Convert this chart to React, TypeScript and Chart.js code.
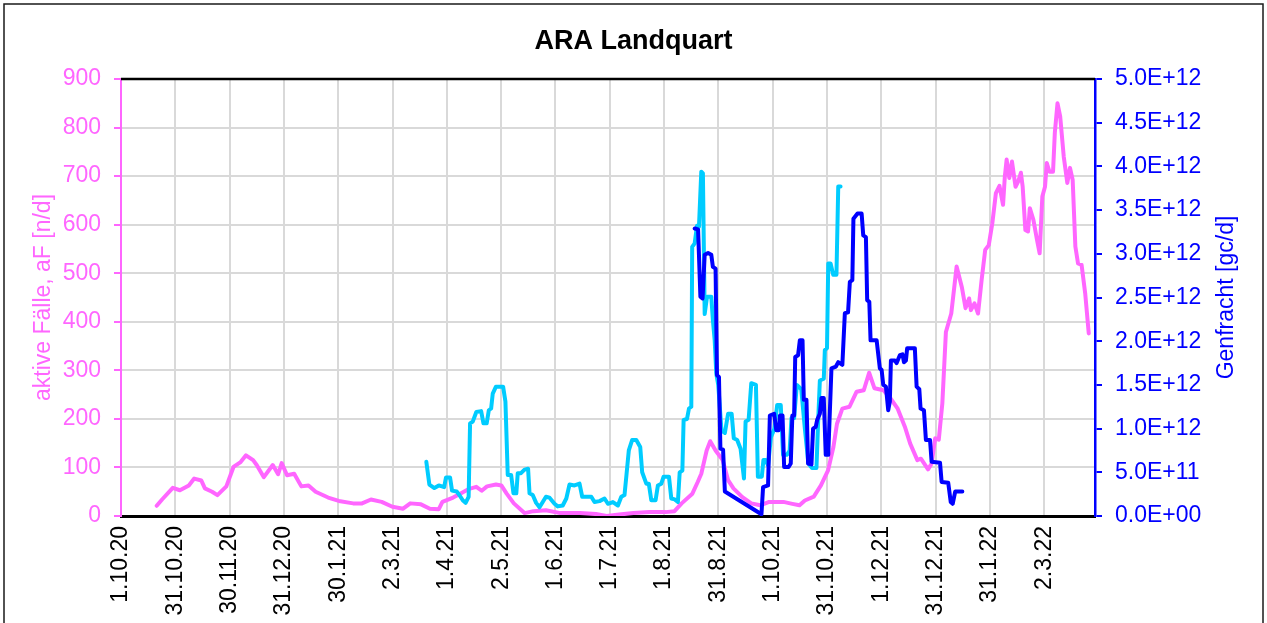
import React, { useEffect, useRef } from 'react';
import { Chart, registerables } from 'chart.js';

Chart.register(...registerables);

const FONT = '"Liberation Sans", Arial, Helvetica, sans-serif';
const PINK = '#FF66FF';
const CYAN = '#00CCFF';
const BLUE = '#0000FF';
const GRID = '#D9D9D9';

// x axis: days since 1.10.20, major unit = 365/12 days
const xTickStep = 365 / 12;
const xTickLabels = [
  '1.10.20', '31.10.20', '30.11.20', '31.12.20', '30.1.21', '2.3.21', '1.4.21', '2.5.21', '1.6.21',
  '1.7.21', '1.8.21', '31.8.21', '1.10.21', '31.10.21', '1.12.21', '31.12.21', '31.1.22', '2.3.22',
];

// aktive Fälle (left axis)
const pinkDays = [
  20, 23, 29, 33, 38, 41, 45, 47, 51, 54, 59, 63, 67, 70, 74, 76, 80, 85, 88, 90, 93, 97, 101, 105, 109,
  116, 122, 130, 135, 140, 146, 152, 158, 162, 168, 173, 178, 180, 186, 190, 195, 199, 202, 205, 210, 213,
  216, 220, 226, 231, 238, 246, 257, 266, 272, 279, 287, 296, 305, 310, 314, 320, 323, 325, 328, 330, 333,
  337, 340, 343, 348, 353, 358, 363, 371, 376, 380, 383, 388, 392, 396, 399, 401, 404, 408, 412, 416, 419,
  422, 427, 431, 435, 439, 442, 446, 448, 452, 454, 456, 458, 460, 462, 465, 468, 471, 473, 475, 476, 478,
  480, 482, 484, 486, 488, 490, 492, 494, 495, 496, 497.5, 499, 501, 502.5, 504, 505, 506.5, 508, 509, 511,
  513, 514.5, 516, 517.5, 518.5, 520, 522, 523, 524.5, 526, 528, 530, 531.5, 533, 534.5, 536, 538, 540, 542,
];
const pinkCases = [
  21, 34, 58, 53, 63, 77, 73, 57, 50, 43, 61, 101, 111, 125, 115, 105, 80, 105, 86, 109, 84, 87, 61, 63, 50,
  38, 31, 26, 26, 34, 29, 19, 15, 26, 24, 15, 14, 29, 38, 46, 56, 60, 52, 61, 65, 63,
  46, 26, 6, 10, 12, 6, 6, 4, 0, 3, 6, 8, 8, 10, 26, 46, 70, 87, 135, 154, 135,
  115, 74, 57, 39, 26, 22, 29, 29, 25, 22, 32, 40, 63, 94, 142, 190, 221, 225, 256, 259, 295,
  263, 259, 242, 221, 184, 149, 115, 118, 96, 108, 160, 157, 232, 379, 417, 514, 470, 428, 448, 424, 438,
  417, 486, 548, 558, 603, 665, 680, 641, 699, 734, 696, 730, 678, 689, 707, 678, 589, 586, 634, 610,
  569, 541, 658, 678, 727, 709, 709, 789, 850, 823, 740, 686, 717, 692, 555, 520, 517, 459, 376,
];

// Genfracht series 1 (right axis, gc/d)
const cyanDays = [
  171, 172.7, 175.5, 178, 181, 182, 184.3, 185.4, 188, 189.5, 191.4, 193, 194.7, 195.5, 197, 199, 201.7,
  203, 204.8, 206, 207.3, 208.2, 210, 214, 215.3, 216.6, 218.5, 219.8, 221.4, 222.2, 224, 226, 228, 228.8,
  230.6, 232.5, 234.4, 236.2, 238, 240, 242.8, 244.6, 247.4, 249.4, 251.2, 254, 256.8, 258.3, 263.4, 265.2,
  268, 270.8, 272.7, 275.5, 278.3, 280.2, 282, 283, 284.4, 286.3, 288.6, 290.8, 291.9, 294.2, 295.6, 297,
  299.4, 300.7, 302.6, 303.9, 306.9, 308.2, 310.1, 311.9, 312.9, 314.4, 315.1, 317, 318.1, 319.4, 319.9,
  321.3, 322.6, 323.7, 325, 325.9, 326.9, 328.2, 330.6, 331.5, 332.5, 333.4, 334.5, 336.3, 338.2, 340, 342,
  343.2, 345.1, 347, 348.9, 349.8, 351.5, 353, 355.6, 356.7, 358.9, 359.8, 361, 362.4, 364, 366, 367.5,
  369.5, 370.8, 373, 374.5, 375.5, 377, 378.5, 381, 383, 385, 387, 389.5, 390.4, 391.4, 393.6, 394.2,
  395.4, 396.1, 397.4, 398.9, 400.7, 401.7, 403,
];
const cyanLoad = [
  0.62e12, 0.36e12, 0.32e12, 0.35e12, 0.33e12, 0.44e12, 0.44e12, 0.29e12, 0.28e12, 0.24e12, 0.18e12, 0.15e12,
  0.22e12, 1.06e12, 1.08e12, 1.19e12, 1.2e12, 1.06e12, 1.06e12, 1.21e12, 1.23e12, 1.4e12, 1.48e12, 1.48e12,
  1.31e12, 0.47e12, 0.47e12, 0.26e12, 0.26e12, 0.49e12, 0.49e12, 0.53e12, 0.54e12, 0.26e12, 0.24e12, 0.15e12,
  0.1e12, 0.16e12, 0.22e12, 0.21e12, 0.14e12, 0.11e12, 0.12e12, 0.2e12, 0.36e12, 0.35e12, 0.37e12, 0.22e12,
  0.22e12, 0.16e12, 0.17e12, 0.2e12, 0.14e12, 0.16e12, 0.12e12, 0.22e12, 0.24e12, 0.45e12, 0.75e12, 0.87e12,
  0.87e12, 0.79e12, 0.5e12, 0.37e12, 0.37e12, 0.18e12, 0.18e12, 0.35e12, 0.37e12, 0.45e12, 0.45e12, 0.2e12,
  0.19e12, 0.16e12, 0.5e12, 0.52e12, 1.1e12, 1.11e12, 1.23e12, 1.25e12, 3.08e12, 3.12e12, 3.32e12, 3.31e12,
  3.94e12, 3.92e12, 2.31e12, 2.51e12, 2.51e12, 2.24e12, 2.01e12, 1.63e12, 1.5e12, 0.98e12, 0.95e12, 1.17e12,
  1.17e12, 0.89e12, 0.87e12, 0.77e12, 0.43e12, 1.08e12, 1.1e12, 1.52e12, 1.5e12, 0.45e12, 0.45e12, 0.64e12,
  0.64e12, 0.58e12, 0.9e12, 1.0e12, 1.27e12, 1.27e12, 0.7e12, 0.7e12, 0.75e12, 1.12e12, 1.12e12, 1.5e12,
  1.45e12, 1.0e12, 0.6e12, 0.55e12, 0.55e12, 1.06e12, 1.55e12, 1.57e12, 1.9e12, 1.92e12, 2.89e12, 2.89e12,
  2.76e12, 2.76e12, 3.77e12, 3.77e12,
];

// Genfracht series 2 (right axis, gc/d)
const blueDays = [
  321.3, 323.2, 324.5, 325.7, 326.9, 328.8, 330.6, 331.5, 333, 333.8, 334.9, 335.7, 337.2, 338.2, 358.7,
  359.6, 362.4, 363.4, 365.8, 367, 368.4, 369.1, 370.5, 371.4, 373.9, 375.1, 376, 377, 377.6, 379.2, 380.2,
  381.7, 382.4, 383.9, 384.8, 386.7, 387.6, 389.1, 389.9, 391.4, 392.3, 393.6, 394.7, 396.1, 397.9, 400.4,
  401.7, 404, 405.4, 407.2, 408.2, 409.6, 410.2, 412.5, 414.8, 415.7, 417.2, 417.9, 419.1, 419.8, 423.2,
  425, 426, 426.9, 428.4, 429.7, 430.6, 431.2, 433.4, 434.4, 436.2, 437.7, 438.5, 439.6, 440.3, 444.6,
  445.6, 447.1, 447.8, 449.7, 450.8, 453.1, 454, 458.7, 459.6, 463.3, 464.7, 465.8, 467.2, 471.2,
];
const blueLoad = [
  3.29e12, 3.28e12, 2.51e12, 2.49e12, 2.99e12, 3.01e12, 2.99e12, 2.85e12, 2.83e12, 1.61e12, 1.59e12, 0.77e12,
  0.76e12, 0.28e12, 0.02e12, 0.33e12, 0.35e12, 1.15e12, 1.17e12, 0.98e12, 0.98e12, 1.15e12, 1.15e12, 0.56e12,
  0.56e12, 0.6e12, 1.15e12, 1.15e12, 1.82e12, 1.84e12, 2.01e12, 2.01e12, 1.33e12, 1.33e12, 0.6e12, 0.59e12,
  1.0e12, 1.02e12, 1.1e12, 1.17e12, 1.35e12, 1.35e12, 0.7e12, 0.7e12, 1.69e12, 1.71e12, 1.76e12, 1.73e12,
  2.32e12, 2.33e12, 2.68e12, 2.7e12, 3.4e12, 3.46e12, 3.46e12, 3.21e12, 3.19e12, 2.47e12, 2.45e12, 2.01e12,
  2.01e12, 1.69e12, 1.67e12, 1.5e12, 1.48e12, 1.21e12, 1.31e12, 1.78e12, 1.78e12, 1.75e12, 1.84e12, 1.85e12,
  1.76e12, 1.78e12, 1.92e12, 1.92e12, 1.48e12, 1.45e12, 1.23e12, 1.21e12, 0.87e12, 0.87e12, 0.62e12, 0.61e12,
  0.39e12, 0.38e12, 0.16e12, 0.14e12, 0.28e12, 0.28e12,
];

function toPoints(xs: number[], ys: number[]) {
  return xs.map((x, i) => ({ x, y: ys[i] }));
}

function fmtExp(v: number): string {
  if (v === 0) return '0.0E+00';
  let e = Math.floor(Math.log10(Math.abs(v)) + 1e-9);
  let m = v / Math.pow(10, e);
  if (Math.abs(m) >= 9.95) {
    m /= 10;
    e += 1;
  }
  return m.toFixed(1) + 'E' + (e >= 0 ? '+' : '-') + String(Math.abs(e)).padStart(2, '0');
}

const framePlugin = {
  id: 'frame',
  beforeDraw(chart: any) {
    const ctx = chart.ctx;
    ctx.save();
    ctx.fillStyle = '#ffffff';
    ctx.fillRect(0, 0, chart.width, chart.height);
    ctx.restore();
  },
  afterDraw(chart: any) {
    const { ctx, chartArea } = chart;
    ctx.save();
    ctx.strokeStyle = '#1a1a1a';
    ctx.lineWidth = 1.5;
    ctx.strokeRect(4, 4, 1259, 700);
    ctx.strokeStyle = '#000000';
    ctx.lineWidth = 2.5;
    ctx.beginPath();
    ctx.moveTo(chartArea.left, chartArea.top);
    ctx.lineTo(chartArea.right, chartArea.top);
    ctx.stroke();
    ctx.translate(1227, (chartArea.top + chartArea.bottom) / 2);
    ctx.rotate(-Math.PI / 2);
    ctx.fillStyle = BLUE;
    ctx.font = `23px ${FONT}`;
    ctx.textAlign = 'center';
    ctx.textBaseline = 'middle';
    ctx.fillText('Genfracht [gc/d]', 0, 0);
    ctx.restore();
  },
};

export default function App() {
  const ref = useRef<HTMLCanvasElement>(null);

  useEffect(() => {
    const canvas = ref.current;
    if (!canvas) return;
    const tickFont = { family: FONT, size: 23 };
    const lineBase = {
      borderWidth: 4,
      pointRadius: 0,
      tension: 0,
      fill: false,
      borderJoinStyle: 'round',
      borderCapStyle: 'round',
    };
    const chart = new Chart(canvas, {
      type: 'line',
      data: {
        datasets: [
          {
            ...lineBase,
            label: 'aktive Fälle',
            data: toPoints(pinkDays, pinkCases),
            borderColor: PINK,
            backgroundColor: PINK,
            yAxisID: 'y',
            order: 2,
          },
          {
            ...lineBase,
            label: 'Genfracht 1',
            data: toPoints(cyanDays, cyanLoad),
            borderColor: CYAN,
            backgroundColor: CYAN,
            yAxisID: 'y2',
            order: 1,
          },
          {
            ...lineBase,
            label: 'Genfracht 2',
            data: toPoints(blueDays, blueLoad),
            borderColor: BLUE,
            backgroundColor: BLUE,
            yAxisID: 'y2',
            order: 0,
          },
        ],
      },
      options: {
        animation: false,
        responsive: false,
        devicePixelRatio: 1,
        layout: { padding: 0 },
        plugins: {
          legend: { display: false },
          tooltip: { enabled: false },
          title: {
            display: true,
            text: 'ARA Landquart',
            color: '#000000',
            font: { family: FONT, size: 27, weight: 'bold' },
            padding: { top: 25, bottom: 21.6 },
          },
        },
        scales: {
          x: {
            type: 'linear',
            min: 0,
            max: 545.5,
            afterBuildTicks: (scale: any) => {
              scale.ticks = xTickLabels.map((_, i) => ({ value: i * xTickStep }));
            },
            afterFit: (scale: any) => {
              scale.height = 107;
            },
            ticks: {
              autoSkip: false,
              minRotation: 90,
              maxRotation: 90,
              padding: 10,
              color: '#000000',
              font: tickFont,
              callback: (_v: any, i: number) => xTickLabels[i],
            },
            grid: { color: GRID, lineWidth: 2, drawTicks: false },
            border: { color: '#000000', width: 3 },
          },
          y: {
            position: 'left',
            min: 0,
            max: 900,
            afterFit: (scale: any) => {
              scale.width = 121;
            },
            ticks: { stepSize: 100, color: PINK, font: tickFont, padding: 13 },
            grid: { color: GRID, lineWidth: 2, tickColor: PINK, tickLength: 7, tickWidth: 2 },
            border: { color: PINK, width: 2 },
            title: {
              display: true,
              text: 'aktive Fälle, aF [n/d]',
              color: PINK,
              font: tickFont,
              padding: { top: 30, bottom: 0 },
            },
          },
          y2: {
            position: 'right',
            min: 0,
            max: 5e12,
            afterFit: (scale: any) => {
              scale.width = 1267 - 1095;
            },
            ticks: {
              stepSize: 5e11,
              color: BLUE,
              font: tickFont,
              padding: 13,
              callback: (v: any) => fmtExp(Number(v)),
            },
            grid: { drawOnChartArea: false, tickColor: BLUE, tickLength: 7, tickWidth: 2, lineWidth: 2 },
            border: { color: BLUE, width: 2.5 },
          },
        },
      } as any,
      plugins: [framePlugin],
    });
    return () => chart.destroy();
  }, []);

  return (
    <div style={{ position: 'fixed', left: 0, top: 0, width: 1267, height: 623, background: '#ffffff' }}>
      <canvas ref={ref} width={1267} height={623} style={{ display: 'block', width: 1267, height: 623 }} />
    </div>
  );
}
